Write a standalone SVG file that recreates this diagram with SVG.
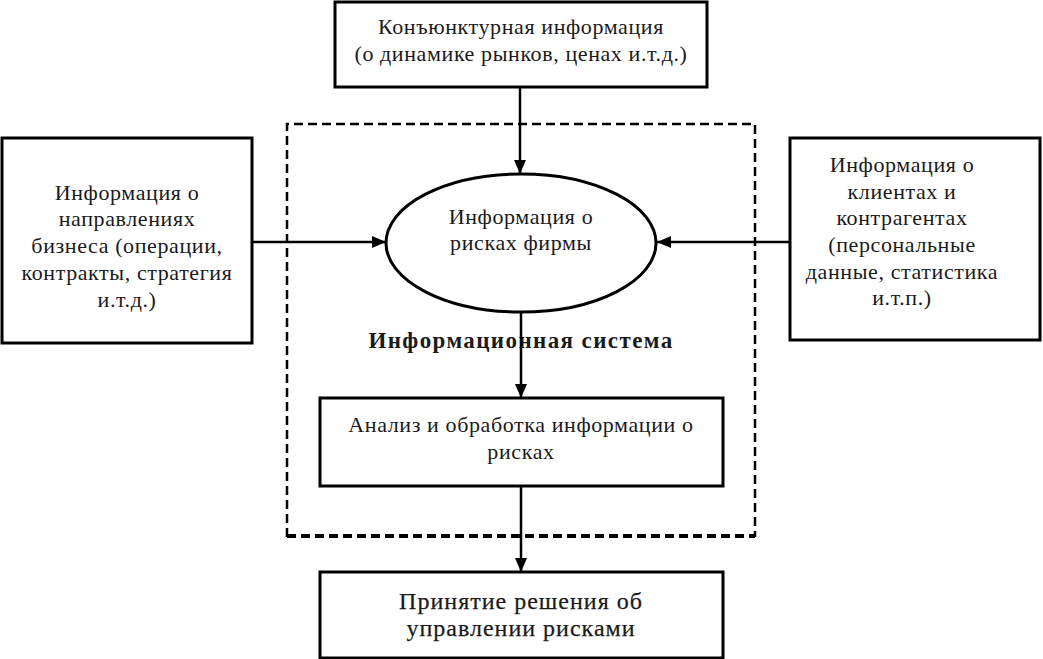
<svg xmlns="http://www.w3.org/2000/svg" width="1043" height="659" viewBox="0 0 1043 659">
<style>
.box{fill:#fff;stroke:#000;stroke-width:3}
.t{font-family:"Liberation Serif","DejaVu Serif",serif;font-size:22px;letter-spacing:0.6px;fill:#1a1a1a;text-anchor:middle}
.b{font-weight:bold;font-size:23px;letter-spacing:1.4px}
.d{font-size:24px;letter-spacing:1px;stroke:#1a1a1a;stroke-width:0.25}
.c{stroke:#000;stroke-width:2.5;fill:none}
.dash{fill:none;stroke:#000;stroke-dasharray:9,5}
</style>
<defs>
<marker id="ah" viewBox="0 0 14 12" refX="14" refY="6" markerWidth="14" markerHeight="12" markerUnits="userSpaceOnUse" orient="auto">
<path d="M0,0 L14,6 L0,12 Z" fill="#000"/>
</marker>
</defs>
<rect width="1043" height="659" fill="#fff"/>
<g id="system">
<path class="dash" d="M287,537 L287,124 L755,124 L755,537" stroke-width="2.5"/>
<path class="dash" d="M287,536 L755,536" stroke-width="4"/>
<text class="t b" x="521" y="348">Информационная система</text>
</g>
<g id="connectors">
<line class="c" x1="520" y1="88" x2="520" y2="174" marker-end="url(#ah)"/>
<line class="c" x1="253" y1="242" x2="386" y2="242" marker-end="url(#ah)"/>
<line class="c" x1="789" y1="242" x2="657" y2="242" marker-end="url(#ah)"/>
<line class="c" x1="521" y1="312" x2="521" y2="398" marker-end="url(#ah)"/>
<line class="c" x1="521" y1="486" x2="521" y2="572" marker-end="url(#ah)"/>
</g>
<g id="market">
<rect class="box" x="335" y="2" width="372" height="85"/>
<text class="t" x="521" y="34">Конъюнктурная информация</text>
<text class="t" x="521" y="61">(о динамике рынков, ценах и.т.д.)</text>
</g>
<g id="business">
<rect class="box" x="2" y="138" width="250" height="205"/>
<text class="t" x="127" y="200">Информация о</text>
<text class="t" x="127" y="226">направлениях</text>
<text class="t" x="127" y="253">бизнеса (операции,</text>
<text class="t" x="127" y="280">контракты, стратегия</text>
<text class="t" x="127" y="307">и.т.д.)</text>
</g>
<g id="clients">
<rect class="box" x="790" y="138" width="250" height="202"/>
<text class="t" x="902" y="172">Информация о</text>
<text class="t" x="902" y="199">клиентах и</text>
<text class="t" x="902" y="225">контрагентах</text>
<text class="t" x="902" y="252">(персональные</text>
<text class="t" x="902" y="279">данные, статистика</text>
<text class="t" x="902" y="305">и.т.п.)</text>
</g>
<g id="risks">
<ellipse cx="521" cy="243" rx="135" ry="69" fill="#fff" stroke="#000" stroke-width="3"/>
<text class="t" x="521" y="224">Информация о</text>
<text class="t" x="521" y="250">рисках фирмы</text>
</g>
<g id="analysis">
<rect class="box" x="320" y="398" width="403" height="88"/>
<text class="t" x="521" y="432">Анализ и обработка информации о</text>
<text class="t" x="521" y="459">рисках</text>
</g>
<g id="decision">
<rect class="box" x="320" y="572" width="403" height="86"/>
<text class="t d" x="521" y="609">Принятие решения об</text>
<text class="t d" x="521" y="636">управлении рисками</text>
</g>
</svg>
